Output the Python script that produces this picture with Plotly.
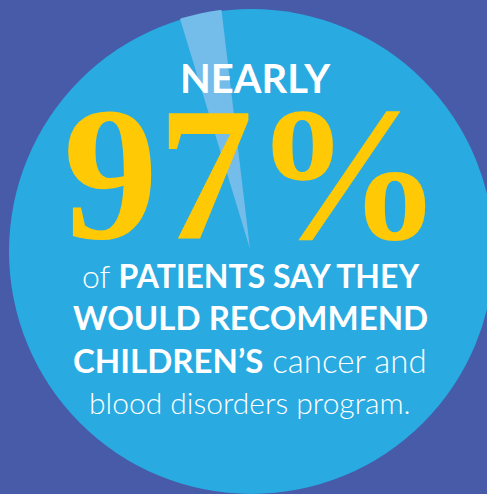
import plotly.graph_objects as go
import math

percent = 97
headline = "NEARLY"
body_lines = [
    "of <b>PATIENTS SAY THEY</b>",
    "<b>WOULD RECOMMEND</b>",
    "<b>CHILDREN\u2019S</b> cancer and",
    "blood disorders program.",
]
body_sizes = [32, 33, 33, 30]

W, H = 487, 494
BG = "#475BA8"
CIRCLE = "#29AAE1"
STRIPE = "#74BCE9"
YELLOW = "#FFC905"

cx, cy, r = 251.5, 251.5, 242.5

fig = go.Figure()

def arc_y(x):
    return cy - math.sqrt(r * r - (x - cx) ** 2)

pts = [(180, arc_y(180) - 1)]
for x in range(185, 222, 5):
    pts.append((x, arc_y(x) - 1))
pts.append((221.5, arc_y(221.5) - 1))
pts.append((250, 249))
path = "M " + " L ".join(f"{x:.1f},{y:.1f}" for x, y in pts) + " Z"

fig.add_shape(type="circle", xref="x", yref="y", x0=cx - r, x1=cx + r, y0=cy - r, y1=cy + r,
              fillcolor=CIRCLE, line=dict(width=0), layer="below")
fig.add_shape(type="path", xref="x", yref="y", path=path, fillcolor=STRIPE,
              line=dict(width=0), layer="below")

fig.add_annotation(x=255, y=78, xref="x", yref="y", text=f"<b>{headline}</b>", showarrow=False,
                   font=dict(family="Lato", size=40, color="white"), xanchor="center", yanchor="middle")
fig.add_annotation(x=253, y=174, xref="x", yref="y", text=f"<b>{percent}%</b>", showarrow=False,
                   font=dict(family="Liberation Serif", size=190, color=YELLOW), xanchor="center", yanchor="middle")

line_y = [275, 317, 360, 402]
for t, y, s in zip(body_lines, line_y, body_sizes):
    fig.add_annotation(x=250, y=y, xref="x", yref="y", text=t, showarrow=False,
                       font=dict(family="Lato", size=s, color="white", weight=300),
                       xanchor="center", yanchor="middle")

fig.update_xaxes(range=[0, W], visible=False, fixedrange=True)
fig.update_yaxes(range=[H, 0], visible=False, fixedrange=True)
fig.update_layout(width=W, height=H, margin=dict(l=0, r=0, t=0, b=0),
                  paper_bgcolor=BG, plot_bgcolor=BG, showlegend=False)
fig.write_html("out.html", config={"displayModeBar": False},
               post_script="document.body.style.margin='0';document.body.style.background='" + BG + "';")
